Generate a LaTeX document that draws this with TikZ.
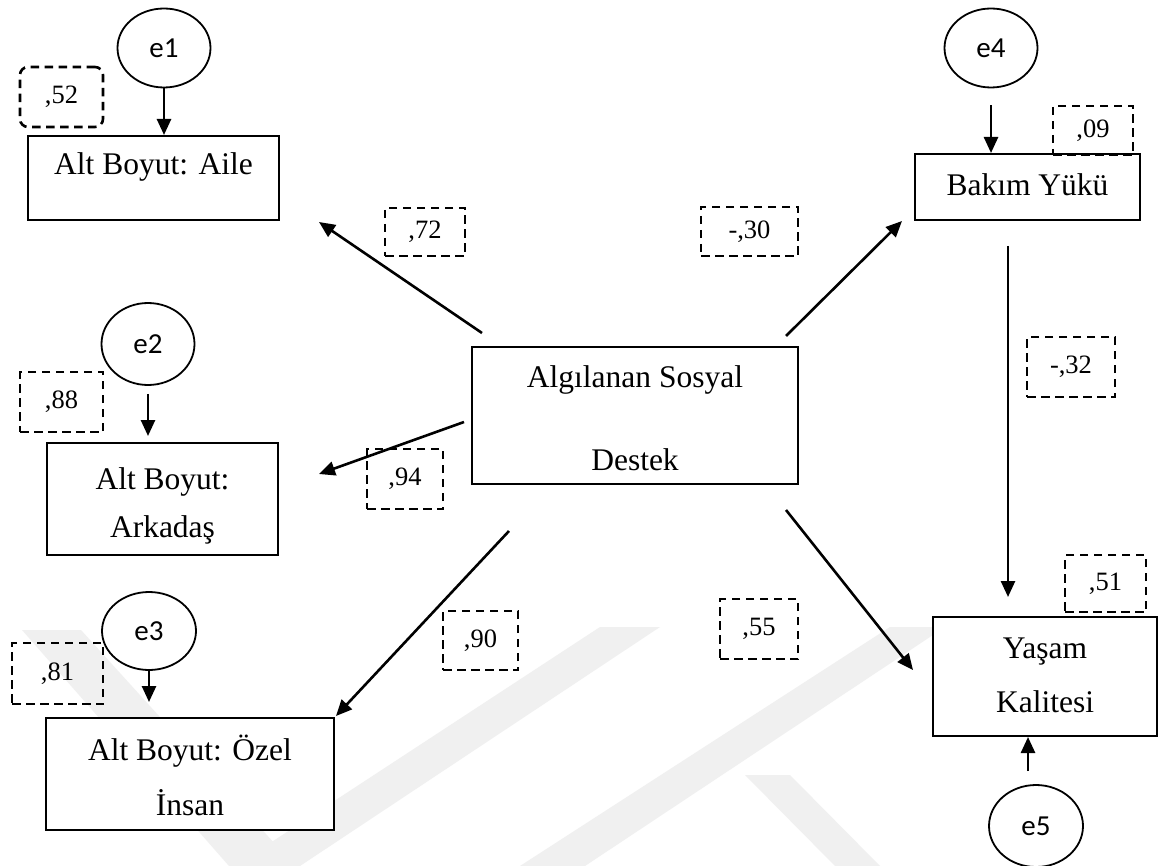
\documentclass[tikz,border=0pt]{standalone}
\usepackage{fontspec}
\setmainfont{Liberation Serif}
\newfontfamily\calfont{Carlito}
\usetikzlibrary{arrows.meta,shapes.geometric,calc}
\begin{document}
\begin{tikzpicture}[x=1pt,y=-1pt,
 bx/.style={draw, fill=white, line width=2pt, inner sep=0pt},
 txt/.style={font=\fontsize{31.5}{55}\selectfont, align=center, inner sep=0pt},
 err/.style={draw, fill=white, ellipse, line width=1.8pt, inner sep=0pt, font=\calfont\fontsize{29}{30}\selectfont},
 lab/.style={draw, dash pattern=on 8.5pt off 5.5pt, line width=2.6pt, inner sep=0pt, font=\fontsize{26.5}{28}\selectfont},
 arr/.style={line width=2.6pt, -{Triangle[length=16pt,width=14pt]}},
 wm/.style={fill=black!6, draw=none},
]
\useasboundingbox (0,0) rectangle (1158,866);
\fill[white] (0,0) rectangle (1158,866);
% faint watermark
\fill[wm] (22,630) -- (81,630) -- (295,866) -- (229,866) -- cycle;
\fill[wm] (600,627) -- (660,627) -- (300,866) -- (235,866) -- cycle;
\fill[wm] (890,627) -- (945,627) -- (585,866) -- (520,866) -- cycle;
\fill[wm] (745,775) -- (790,775) -- (880,866) -- (835,866) -- cycle;

% boxes
\node[bx, minimum width=251pt, minimum height=84pt] (aile) at (153.5,178) {};
\node[txt] (ailet) at (153.5,167) {Alt Boyut: Aile};
\node[bx, minimum width=231pt, minimum height=112pt] (ark) at (162.5,499) {};
\node[txt, font=\fontsize{31.5}{48}\selectfont] (arkt) at (162.5,506) {Alt Boyut:\\Arkadaş};
\node[bx, minimum width=288pt, minimum height=112pt] (ozel) at (190,774) {};
\node[txt] (ozelt) at (190,775) {Alt Boyut: Özel\\İnsan};
\node[bx, minimum width=326pt, minimum height=137pt] (cen) at (635,415.5) {};
\node[txt, font=\fontsize{31.5}{83}\selectfont] (cent) at (635,418.5) {Algılanan Sosyal\\Destek};
\node[bx, minimum width=225pt, minimum height=66pt] (bakim) at (1027.5,187) {};
\node[txt] (bakimt) at (1027.5,185) {Bakım Yükü};
\node[bx, minimum width=224pt, minimum height=119pt] (yasam) at (1045,676.5) {};
\node[txt, font=\fontsize{31.5}{54}\selectfont] (yasamt) at (1045,675) {Yaşam\\Kalitesi};

% error terms
\node[err, minimum width=93pt, minimum height=79pt] (e1) at (164,48) {e1};
\node[err, minimum width=93pt, minimum height=82pt] (e2) at (148,344) {e2};
\node[err, minimum width=94pt, minimum height=78pt] (e3) at (149,631) {e3};
\node[err, minimum width=93pt, minimum height=79pt] (e4) at (991,48) {e4};
\node[err, minimum width=94pt, minimum height=82pt] (e5) at (1036,826) {e5};

% dashed value boxes
\node[lab, minimum width=83pt, minimum height=60pt, rounded corners=8pt] (r52) at (61.5,97) {,52};
\node[lab, minimum width=83pt, minimum height=60pt] (r88) at (61.5,402) {,88};
\node[lab, minimum width=91pt, minimum height=61pt] (r81) at (57.5,673.5) {,81};
\node[lab, minimum width=80pt, minimum height=48pt] (r72) at (425,232) {,72};
\node[lab, minimum width=97pt, minimum height=49pt] (r30) at (749.5,231.5) {-,30};
\node[lab, minimum width=76pt, minimum height=60pt] (r94) at (405,479) {,94};
\node[lab, minimum width=75pt, minimum height=59pt] (r90) at (480.5,640.5) {,90};
\node[lab, minimum width=78pt, minimum height=60pt] (r55) at (759,629) {,55};
\node[lab, minimum width=80pt, minimum height=49pt] (r09) at (1093,130.5) {,09};
\node[lab, minimum width=88pt, minimum height=60pt] (r32) at (1071,367) {-,32};
\node[lab, minimum width=81pt, minimum height=57pt] (r51) at (1105.5,583.5) {,51};

% error arrows
\draw[arr] (e1) -- (e1 |- aile.north);
\draw[arr, shorten <=8pt, shorten >=6pt] (e2) -- (e2 |- ark.north);
\draw[arr, shorten >=15pt] (e3) -- (e3 |- ozel.north);
\draw[arr, shorten <=17pt] (e4) -- (e4 |- bakim.north);
\coordinate (e5a) at ($(e5.north)+(-8,-13)$);
\draw[arr] (e5a) -- (e5a |- yasam.south);

% structural arrows
\draw[arr] ($(cen.north west)+(11,-13)$) -- ($(aile.south east)+(39,1)$);
\draw[arr] ($(cen.west)+(-7,6.5)$) -- ($(ark.east)+(40,-25)$);
\draw[arr] ($(cen.south west)+(38,46)$) -- ($(ozel.north east)+(1,-1)$);
\draw[arr] ($(cen.north east)+(-13,-10)$) -- ($(bakim.south west)+(-12,0)$);
\draw[arr] ($(cen.south east)+(-13,25)$) -- ($(yasam.west)+(-19,-6.5)$);
\coordinate (bya) at ($(bakim.south)+(-19.5,25)$);
\draw[arr, shorten >=19pt] (bya) -- (bya |- yasam.north);
\end{tikzpicture}
\end{document}
